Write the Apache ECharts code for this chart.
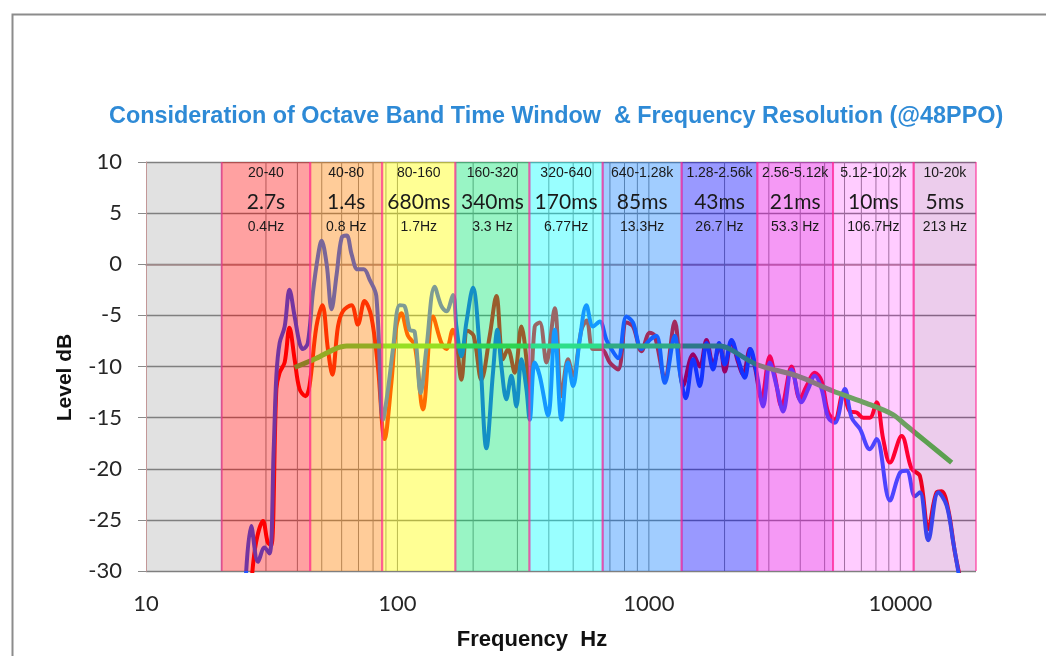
<!DOCTYPE html>
<html><head><meta charset="utf-8">
<script src="https://cdn.jsdelivr.net/npm/echarts@6/dist/echarts.min.js"></script>
<style>html,body{margin:0;padding:0;background:#fff}#c{width:1046px;height:656px}</style>
</head><body><div id="c"></div>
<script>
// ---------------- data ----------------
const redFreq = [26.3,27.4,29.2,30.5,31.5,33.0,34.0,35.6,37.2,39.0,40.8,43.1,44.7,47.6,50.3,52.9,55.1,58.0,60.7,65.6,69.6,74.0,78.7,83.6,88.9,94.6,99.0,103.6,110.1,117.1,126.3,138.5,149.6,156.6,166.3,171.6,179.6,190.2,201.0,215.7,232.8,247.5,262.9,275.2,292.6,311.2,325.8,335.8,351.5,368.0,391.3,422.2,449.0,476.9,499.3,539.3,566.1,599.7,647.8,698.9,754.1,814.4,865.2,934.5,1008,1055,1157,1268,1368,1500,1594,1695,1801,1915,2004,2131,2265,2371,2521,2639,2806,3027,3169,3370,3694,3985,4238,4573,4862,5165,5492,5926,6301,6701,7118,7568,8048,8549,9092,10121,11092,11969,12915,13946,14605,15515,16493,17425];
const redLevel = [-31,-27.2,-25.1,-27.2,-27.5,-12.2,-10.6,-9.6,-6.2,-9.3,-12.2,-12.9,-11.9,-6.1,-4.0,-8.3,-10.8,-6.1,-4.6,-4.0,-5.9,-3.6,-5.1,-10,-17.1,-11.6,-6.1,-4.8,-7,-7.9,-14.2,-5.1,-7.7,-8.3,-6.4,-7.4,-11.3,-6.5,-7,-11.3,-7,-3.1,-9.3,-8.3,-10.6,-6.1,-9.3,-14.2,-6.1,-5.7,-9.6,-4.3,-12.9,-9.3,-10.9,-6.4,-5.5,-8.3,-8.3,-9.6,-10.3,-5.7,-6.1,-8.5,-6.7,-7.0,-11.1,-5.6,-11.9,-8.8,-10,-7.4,-9.8,-7.9,-10.5,-7.5,-9.6,-10.8,-8.3,-10,-13.2,-9.0,-10.9,-13.9,-10,-13.2,-11.9,-10.6,-11.4,-14.5,-15.2,-12.6,-14.4,-14.5,-15,-15,-13.5,-17.1,-19.4,-16.8,-20.0,-20.7,-25.9,-22.3,-22.2,-24,-28.2,-31];

const blueFreq = [24.9,26.2,27.9,29.6,31.0,32.2,33.0,34.0,35.6,37.2,39.0,40.8,42.1,44.0,46.1,48.3,49.9,52.3,54.7,57.3,60.0,62.8,65.7,69.4,73.4,77.5,82.4,87.6,91.4,96.0,102,106.8,111.8,117.1,123.7,130.3,140.6,149.6,156.6,166.3,171.6,179.6,188.0,199.7,212.3,225.9,239.9,249.8,259.1,271.2,283.9,297.2,311.2,325.8,335.8,351.5,368.0,397.1,422.2,449.0,476.9,499.3,530.9,564.5,599.7,637.8,678.1,709.8,754.1,814.4,865.2,934.5,1008,1072,1157,1268,1327,1402,1500,1594,1695,1801,1902,2004,2131,2265,2408,2537,2680,2847,3027,3219,3420,3694,4048,4300,4573,4862,5165,5492,6019,6401,6906,7568,8048,9092,9964,10596,11433,11969,12915,14158,15290,16240,17267];
const blueLevel = [-31,-25.6,-29.1,-27.7,-28.3,-18.1,-10.9,-7.7,-6.1,-2.5,-5.1,-7.7,-8.3,-7.7,-2.8,0.8,2.3,0,-4.4,-1,2.6,2.8,1,-0.5,-0.5,-1.5,-3.1,-15.2,-12.5,-8.3,-4,-4.1,-6.4,-6.6,-12.6,-8.3,-2.2,-4.1,-4.6,-3.0,-6.1,-9.0,-5.7,-2.3,-8.3,-18.0,-10.6,-6.4,-10,-13.2,-10.9,-13.9,-9.3,-12.2,-15.2,-9.6,-10.9,-14.8,-6.4,-15.2,-9.6,-11.9,-7.4,-4.0,-6.1,-5.6,-7.4,-8.3,-9.2,-5.1,-5.7,-8.3,-7.4,-7.0,-11.6,-7.0,-10.5,-13.1,-9.3,-11.9,-7.7,-10.3,-7.7,-9.8,-7.4,-9.3,-11.1,-8.3,-10.6,-13.9,-9.6,-11.9,-14.4,-10.3,-13.5,-12.2,-10.9,-12.2,-15,-15.5,-12.2,-15,-16.1,-18.1,-17.1,-23.1,-20.4,-20.2,-22.7,-22.3,-27.0,-22.3,-23.6,-27.2,-31];

const greenFreq = [39.0,47.6,56.3,62.8,85,300,1000,1915,2099,2680,3867,5393,7343,9346,10596,12727,16004];
const greenLevel = [-10.1,-9.2,-8.3,-8.0,-8.0,-8.0,-8.0,-8.0,-8.3,-9.8,-10.9,-12.4,-13.6,-14.7,-15.8,-17.4,-19.4];

// octave bands (Hz)
const bandLo = [10,20,45,87,170,335,655,1350,2700,5400,11300];
const bandHi = [20,45,87,170,335,655,1350,2700,5400,11300,20000];
const bandRange = ['', '20-40','40-80','80-160','160-320','320-640','640-1.28k','1.28-2.56k','2.56-5.12k','5.12-10.2k','10-20k'];
const bandTime = ['', '2.7s','1.4s','680ms','340ms','170ms','85ms','43ms','21ms','10ms','5ms'];
const bandRes = ['', '0.4Hz','0.8 Hz','1.7Hz','3.3 Hz','6.77Hz','13.3Hz','26.7 Hz','53.3 Hz','106.7Hz','213 Hz'];

// log grid frequencies
const gridFreqs = [20,30,40,50,60,70,80,90,100,200,300,400,500,600,700,800,900,1000,2000,3000,4000,5000,6000,7000,8000,9000,10000];

const xMin = 10, xMax = 20000;
const yMin = -30, yMax = 10, yStep = 5;

// ---------------- styles ----------------
const bandFill = [
  'rgba(128,128,128,0.24)','rgba(255,0,0,0.37)','rgba(255,128,0,0.40)','rgba(255,255,0,0.42)',
  'rgba(0,230,110,0.40)','rgba(0,255,255,0.40)','rgba(0,120,255,0.37)','rgba(0,0,255,0.40)',
  'rgba(230,0,230,0.40)','rgba(255,0,255,0.20)','rgba(160,0,160,0.20)'
];
const edgeColor = 'rgba(255,40,150,0.55)';

const zip = (a, b) => a.map((v, i) => [v, b[i]]);

const chart = echarts.init(document.getElementById('c'), null, {renderer: 'canvas'});
chart.setOption({
  animation: false,
  backgroundColor: '#fff',
  title: {
    text: 'Consideration of Octave Band Time Window  & Frequency Resolution (@48PPO)',
    left: 104, top: 100,
    textStyle: {color: '#2E8AD6', fontSize: 23.4, fontWeight: 'bold', fontFamily: 'Liberation Sans'}
  },
  graphic: [{
    type: 'rect', left: 10, top: 12, silent: true,
    shape: {width: 1100, height: 700},
    style: {fill: 'none', stroke: '#8c8c8c', lineWidth: 2}
  }],
  grid: {left: 146, right: 70, top: 162, bottom: 84, containLabel: false},
  xAxis: {
    type: 'log', logBase: 10, min: xMin, max: xMax,
    name: 'Frequency  Hz', nameLocation: 'middle', nameGap: 58,
    nameTextStyle: {fontSize: 22, fontWeight: 'bold', color: '#111', fontFamily: 'Liberation Sans', padding: [0, 58, 0, 0]},
    axisLine: {show: true, lineStyle: {color: '#b09090', width: 1.5}},
    axisTick: {show: false},
    splitLine: {show: false},
    axisLabel: {showMaxLabel: false, margin: 22, fontSize: 22, color: '#262626', fontFamily: 'Lato',
                formatter: function (v) { return String(Math.round(v)); }}
  },
  yAxis: {
    type: 'value', min: yMin, max: yMax, interval: yStep,
    name: 'Level dB', nameLocation: 'middle', nameGap: 70,
    nameTextStyle: {fontSize: 21, fontWeight: 'bold', color: '#111', fontFamily: 'Liberation Sans', padding: [0, 22, 0, 0]},
    axisLine: {show: true, lineStyle: {color: '#d8a0a0', width: 1}},
    axisTick: {show: true, inside: false, length: 8, lineStyle: {color: '#8a8a8a'}},
    axisLabel: {margin: 24, fontSize: 22, color: '#262626', fontFamily: 'Lato'},
    splitLine: {show: true, lineStyle: {color: '#7f7f7f', width: 1.3}}
  },
  series: [
    {
      name: 'grid', type: 'custom', z: 1, silent: true,
      data: gridFreqs.map(f => [f, yMin]),
      encode: {x: 0, y: 1},
      renderItem: function (params, api) {
        const a = api.coord([api.value(0), yMax]);
        const b = api.coord([api.value(0), yMin]);
        return {type: 'line', shape: {x1: a[0], y1: a[1], x2: b[0], y2: b[1]},
                style: {stroke: '#8a8a8a', lineWidth: 1}};
      }
    },
    {name: 'red', type: 'line', z: 2, data: zip(redFreq, redLevel), smooth: 0.35, showSymbol: false,
     lineStyle: {color: '#ff0000', width: 4}, clip: true},
    {name: 'blue', type: 'line', z: 3, data: zip(blueFreq, blueLevel), smooth: 0.35, showSymbol: false,
     lineStyle: {color: '#2255ff', width: 4}, clip: true},
    {name: 'green', type: 'line', z: 4, data: zip(greenFreq, greenLevel), smooth: 0.3, showSymbol: false,
     lineStyle: {color: '#4cc83c', width: 5}, clip: true},
    {
      name: 'bands', type: 'custom', z: 5, silent: true,
      data: bandLo.map((lo, i) => [lo, yMin, bandHi[i], i]),
      encode: {x: 0, y: 1},
      renderItem: function (params, api) {
        const i = api.value(3);
        const p0 = api.coord([api.value(0), yMax]);
        const p1 = api.coord([api.value(2), yMin]);
        const children = [{type: 'rect', shape: {x: p0[0], y: p0[1], width: p1[0] - p0[0], height: p1[1] - p0[1]},
                           style: {fill: bandFill[i]}}];
        if (i > 0) {
          children.push({type: 'line', shape: {x1: p0[0], y1: p0[1], x2: p0[0], y2: p1[1]}, style: {stroke: edgeColor, lineWidth: 2}});
          children.push({type: 'line', shape: {x1: p1[0], y1: p0[1], x2: p1[0], y2: p1[1]}, style: {stroke: edgeColor, lineWidth: 2}});
        }
        return {type: 'group', children: children};
      }
    },
    {
      name: 'bandLabels', type: 'custom', z: 6, silent: true,
      data: bandLo.map((lo, i) => [lo, yMax, bandHi[i], i]),
      encode: {x: 0, y: 1},
      renderItem: function (params, api) {
        const i = api.value(3);
        if (!bandRange[i]) return null;
        const p0 = api.coord([api.value(0), yMax]);
        const p1 = api.coord([api.value(2), yMax]);
        const cx = (p0[0] + p1[0]) / 2, top = p0[1];
        const t = (txt, dy, size, fam) => ({type: 'text', x: cx, y: top + dy,
          style: {text: txt, fill: '#1a1a1a', fontSize: size, fontFamily: fam, align: 'center', verticalAlign: 'middle'}});
        return {type: 'group', children: [
          t(bandRange[i], 11, 14, 'Liberation Sans'),
          t(bandTime[i], 40, 21, 'Lato'),
          t(bandRes[i], 65.5, 14, 'Liberation Sans')
        ]};
      }
    }
  ]
});
</script>
</body></html>
